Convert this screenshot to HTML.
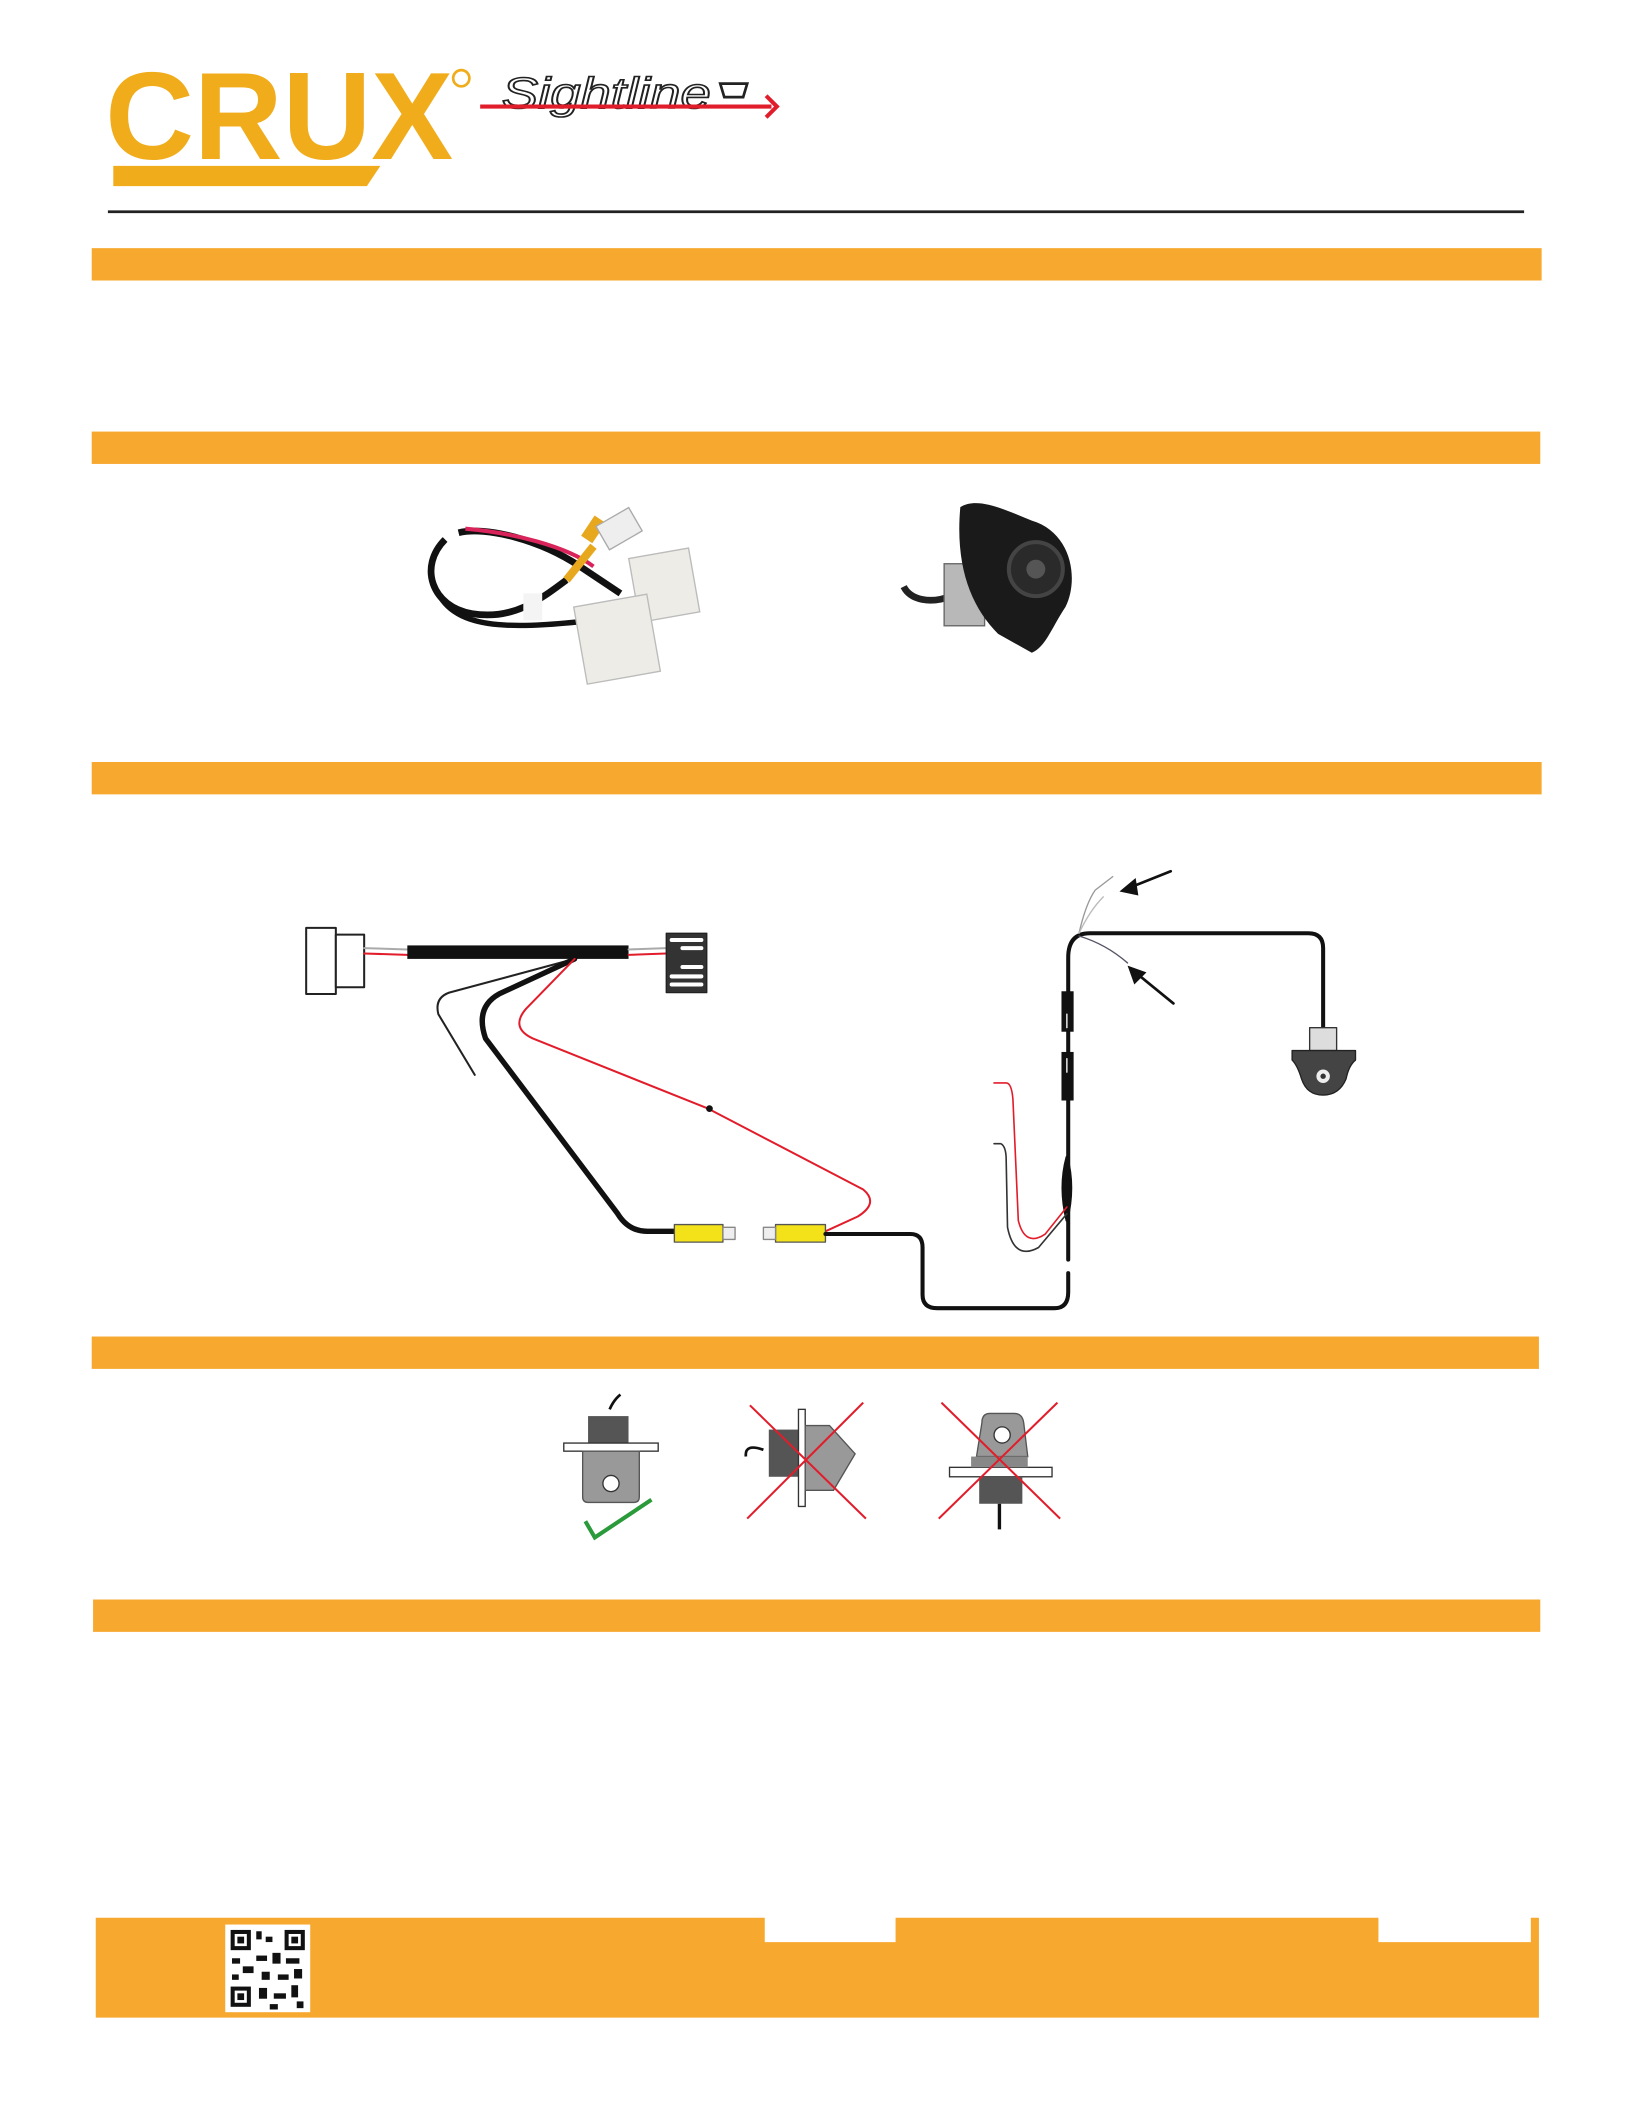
<!DOCTYPE html>
<html><head><meta charset="utf-8"><style>
html,body{margin:0;padding:0;background:#fff;}
svg{display:block;}
</style></head><body>
<svg width="1632" height="2112" viewBox="0 0 1210 1566" preserveAspectRatio="none" xmlns="http://www.w3.org/2000/svg" font-family="Liberation Sans, sans-serif">
<!-- Logo -->
<text x="78" y="118" font-size="92" font-weight="bold" fill="#f0ac1b" textLength="258" lengthAdjust="spacingAndGlyphs">CRUX</text>
<polygon points="84,123 282,123 272,138 84,138" fill="#f0ac1b"/>
<circle cx="342" cy="58" r="6" fill="none" stroke="#f0ac1b" stroke-width="2"/>
<text x="372" y="80" font-size="32" font-style="italic" fill="#fff" stroke="#222" stroke-width="1.2" textLength="155" lengthAdjust="spacingAndGlyphs">Sightline</text>
<path d="M534,62 h20 l-3,10 h-14 z" fill="none" stroke="#222" stroke-width="2"/>
<line x1="356" y1="79" x2="572" y2="79" stroke="#e21d2b" stroke-width="3"/>
<polyline points="568,71 576,79 568,87" fill="none" stroke="#e21d2b" stroke-width="3"/>
<line x1="80" y1="157" x2="1130" y2="157" stroke="#222" stroke-width="2"/>

<!-- bars -->
<g fill="#f7a82e">
<rect x="68" y="184" width="1075" height="24"/>
<rect x="68" y="320" width="1074" height="24"/>
<rect x="68" y="565" width="1075" height="24"/>
<rect x="68" y="991" width="1073" height="24"/>
<rect x="69" y="1186" width="1073" height="24"/>
<path d="M71,1422 H567 V1440 H664 V1422 H1022 V1440 H1135 V1422 H1141 V1496 H71 Z"/>
</g>
<!-- QR -->
<rect x="167" y="1427" width="63" height="65" fill="#fff"/>
<g fill="#111">
<rect x="171" y="1431" width="15" height="15"/><rect x="174" y="1434" width="9" height="9" fill="#fff"/><rect x="176" y="1436" width="5" height="5"/>
<rect x="211" y="1431" width="15" height="15"/><rect x="214" y="1434" width="9" height="9" fill="#fff"/><rect x="216" y="1436" width="5" height="5"/>
<rect x="171" y="1473" width="15" height="15"/><rect x="174" y="1476" width="9" height="9" fill="#fff"/><rect x="176" y="1478" width="5" height="5"/>
<rect x="190" y="1432" width="4" height="6"/><rect x="197" y="1436" width="5" height="4"/><rect x="190" y="1450" width="8" height="4"/><rect x="202" y="1448" width="6" height="8"/><rect x="172" y="1452" width="6" height="4"/><rect x="180" y="1458" width="8" height="5"/><rect x="212" y="1452" width="10" height="4"/><rect x="194" y="1462" width="6" height="6"/><rect x="206" y="1464" width="8" height="4"/><rect x="218" y="1460" width="6" height="7"/><rect x="192" y="1474" width="6" height="8"/><rect x="203" y="1478" width="9" height="4"/><rect x="216" y="1472" width="5" height="9"/><rect x="200" y="1486" width="6" height="4"/><rect x="220" y="1484" width="5" height="5"/><rect x="172" y="1464" width="5" height="4"/>
</g>

<!-- Photo: harness -->
<g>
<path d="M330,400 C310,420 320,450 350,455 C380,460 400,445 420,430" fill="none" stroke="#111" stroke-width="5"/>
<path d="M340,395 C360,390 400,400 430,420 L460,440" fill="none" stroke="#111" stroke-width="5"/>
<path d="M345,392 C380,395 420,405 440,420" fill="none" stroke="#d8245a" stroke-width="3"/>
<path d="M325,440 C340,470 390,465 440,460" fill="none" stroke="#111" stroke-width="4"/>
<path d="M435,400 L445,385" stroke="#e8a81e" stroke-width="10"/>
<rect x="445" y="382" width="28" height="20" fill="#eee" stroke="#aaa" transform="rotate(-30 459 392)"/>
<path d="M420,430 L440,405" stroke="#e8a81e" stroke-width="6"/>
<rect x="470" y="410" width="45" height="48" fill="#eeece6" stroke="#bbb" transform="rotate(-10 492 434)"/>
<rect x="430" y="445" width="55" height="58" fill="#eeece6" stroke="#bbb" transform="rotate(-10 457 474)"/>
<rect x="388" y="440" width="14" height="20" fill="#f4f4f4"/>
</g>
<!-- Photo: camera -->
<g>
<path d="M670,435 C675,445 690,448 705,442" fill="none" stroke="#222" stroke-width="5"/>
<rect x="700" y="418" width="30" height="46" fill="#b8b8b8" stroke="#666"/>
<path d="M712,376 C725,368 745,378 765,386 C795,395 800,430 790,450 C780,465 775,480 765,484 L740,470 C720,450 708,420 712,376 Z" fill="#1a1a1a"/>
<circle cx="768" cy="422" r="20" fill="#2a2a2a" stroke="#444" stroke-width="3"/>
<circle cx="768" cy="422" r="7" fill="#555"/>
</g>

<!-- Wiring diagram -->
<g fill="none" stroke-linecap="round" stroke-linejoin="round">
<rect x="227" y="688" width="22" height="49" fill="#fff" stroke="#222" stroke-width="1.5"/>
<rect x="249" y="693" width="21" height="39" fill="#fff" stroke="#222" stroke-width="1.5"/>
<line x1="270" y1="703" x2="302" y2="704" stroke="#aaa" stroke-width="1.5"/>
<line x1="270" y1="707" x2="302" y2="708" stroke="#e21d2b" stroke-width="1.5"/>
<rect x="302" y="701" width="164" height="10" fill="#111" stroke="none"/>
<line x1="466" y1="704" x2="494" y2="703" stroke="#aaa" stroke-width="1.5"/>
<line x1="466" y1="708" x2="494" y2="707" stroke="#e21d2b" stroke-width="1.5"/>
<rect x="494" y="692" width="30" height="44" fill="#333" stroke="#222" stroke-width="1"/>
<g stroke="#fff" stroke-width="3"><line x1="498" y1="697" x2="520" y2="697"/><line x1="506" y1="703" x2="520" y2="703"/><line x1="506" y1="717" x2="520" y2="717"/><line x1="498" y1="724" x2="520" y2="724"/><line x1="498" y1="730" x2="520" y2="730"/></g>
<path d="M426,711 L333,736 Q322,740 325,752 L352,797" stroke="#222" stroke-width="1.5"/>
<path d="M426,711 L370,737 Q352,747 360,770 L458,900 Q466,913 480,913 L500,913" stroke="#111" stroke-width="4"/>
<path d="M426,711 L390,748 Q378,762 395,770 L525,822 L640,882 Q652,892 636,902 L612,913" stroke="#e21d2b" stroke-width="1.5"/>
<circle cx="526" cy="822" r="2.5" fill="#111" stroke="none"/>
<!-- RCA -->
<rect x="500" y="908" width="36" height="13" fill="#f3e21a" stroke="#555" stroke-width="1"/>
<rect x="536" y="910" width="9" height="9" fill="#eee" stroke="#888" stroke-width="1"/>
<rect x="575" y="908" width="37" height="13" fill="#f3e21a" stroke="#555" stroke-width="1"/>
<rect x="566" y="910" width="9" height="9" fill="#eee" stroke="#888" stroke-width="1"/>
<path d="M612,915 L675,915 Q684,915 684,925 L684,960 Q684,970 695,970 L782,970 Q792,970 792,958 L792,944" stroke="#111" stroke-width="3"/>
<path d="M792,934 L792,710 Q792,692 808,692 L970,692 Q981,692 981,703 L981,763" stroke="#111" stroke-width="3"/>
<rect x="787" y="735" width="9" height="30" fill="#111" stroke="none"/>
<rect x="787" y="780" width="9" height="36" fill="#111" stroke="none"/>
<line x1="791" y1="752" x2="791" y2="762" stroke="#fff" stroke-width="1"/>
<line x1="791" y1="785" x2="791" y2="795" stroke="#fff" stroke-width="1"/>
<path d="M791,858 Q797,880 791,905 Q785,880 791,858 Z" fill="#111" stroke="#111" stroke-width="2"/>
<path d="M737,803 L746,803 Q750,803 751,815 L755,905 Q760,925 775,915 L791,895" stroke="#e21d2b" stroke-width="1.2"/>
<path d="M737,848 L742,848 Q746,850 746,860 L747,910 Q752,935 770,925 L791,900" stroke="#333" stroke-width="1.2"/>
<path d="M800,692 Q805,670 812,660 L825,650" stroke="#999" stroke-width="1"/>
<path d="M800,692 Q808,675 818,665" stroke="#bbb" stroke-width="1"/>
<path d="M800,694 Q820,700 836,714" stroke="#556" stroke-width="1"/>
<line x1="868" y1="646" x2="838" y2="658" stroke="#111" stroke-width="2"/>
<polygon points="830,661 842,651 844,664" fill="#111" stroke="none"/>
<line x1="870" y1="744" x2="843" y2="722" stroke="#111" stroke-width="2"/>
<polygon points="836,716 850,721 841,730" fill="#111" stroke="none"/>
<!-- small camera -->
<rect x="971" y="762" width="20" height="17" fill="#ddd" stroke="#333" stroke-width="1"/>
<path d="M958,779 H1005 V786 Q1000,790 998,800 Q993,812 981,812 Q969,812 965,800 Q962,790 958,786 Z" fill="#444" stroke="#222" stroke-width="1"/>
<circle cx="981" cy="798" r="5" fill="#eee"/><circle cx="981" cy="798" r="2" fill="#333" stroke="none"/>
</g>

<!-- mounting icons -->
<g>
<path d="M452,1045 Q455,1038 460,1034" fill="none" stroke="#111" stroke-width="2"/>
<rect x="436" y="1050" width="30" height="20" fill="#555"/>
<rect x="418" y="1070" width="70" height="6" fill="#fff" stroke="#333" stroke-width="1"/>
<path d="M432,1076 H474 V1110 Q474,1114 470,1114 H436 Q432,1114 432,1110 Z" fill="#999" stroke="#555" stroke-width="1"/>
<circle cx="453" cy="1100" r="6" fill="#fff" stroke="#333"/>
<polyline points="434,1128 441,1140 483,1112" fill="none" stroke="#2a9a3a" stroke-width="3"/>

<path d="M566,1075 Q552,1070 553,1080" fill="none" stroke="#111" stroke-width="2"/>
<rect x="570" y="1060" width="22" height="35" fill="#555"/>
<rect x="592" y="1045" width="5" height="72" fill="#fff" stroke="#333" stroke-width="1"/>
<path d="M597,1057 H615 L634,1078 L618,1105 H597 Z" fill="#999" stroke="#555" stroke-width="1"/>
<g stroke="#e21d2b" stroke-width="1.5"><line x1="556" y1="1042" x2="642" y2="1126"/><line x1="640" y1="1040" x2="554" y2="1126"/></g>

<path d="M728,1055 Q728,1048 734,1048 H752 Q758,1048 759,1055 L762,1080 H724 Z" fill="#999" stroke="#555" stroke-width="1"/>
<circle cx="743" cy="1064" r="6" fill="#fff" stroke="#333"/>
<rect x="704" y="1088" width="76" height="7" fill="#fff" stroke="#333" stroke-width="1"/>
<rect x="720" y="1080" width="42" height="8" fill="#888"/>
<rect x="726" y="1095" width="32" height="20" fill="#555"/>
<line x1="741" y1="1115" x2="741" y2="1134" stroke="#111" stroke-width="2.5"/>
<g stroke="#e21d2b" stroke-width="1.5"><line x1="698" y1="1040" x2="786" y2="1126"/><line x1="784" y1="1040" x2="696" y2="1126"/></g>
</g>
</svg>
</body></html>
